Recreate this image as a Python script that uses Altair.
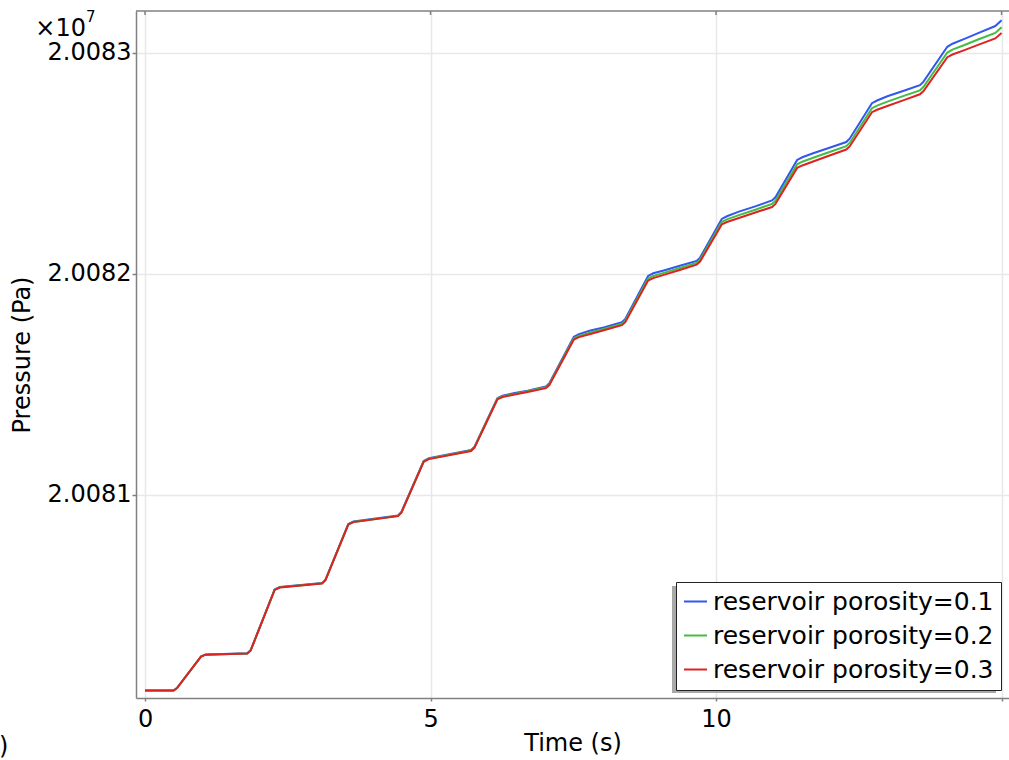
import altair as alt
import pandas as pd

# ---- data ----
times = [0.00, 0.50, 0.56, 0.98, 1.06,
         1.79, 1.85, 2.27, 2.36,
         3.10, 3.16, 3.56, 3.65,
         4.43, 4.49, 4.88, 4.97,
         5.71, 5.77, 6.17, 6.26,
         6.45, 6.70,
         7.02, 7.08, 7.51, 7.60,
         7.80, 8.05,
         8.35, 8.41, 8.81, 8.90,
         9.10, 9.35,
         9.66, 9.72, 10.10, 10.19,
         10.40, 10.70,
         10.98, 11.04, 11.42, 11.51,
         11.70, 12.00,
         12.28, 12.34, 12.73, 12.82,
         13.00, 13.30,
         13.57, 13.63, 14.05, 14.14,
         14.35, 14.60,
         14.89, 15.00]

p_por_01 = [20080115, 20080115, 20080126, 20080269, 20080278,
            20080283, 20080297, 20080572, 20080583,
            20080601, 20080616, 20080869, 20080880,
            20080907, 20080923, 20081154, 20081166,
            20081203, 20081218, 20081438, 20081449,
            20081460, 20081472,
            20081491, 20081505, 20081716, 20081728,
            20081744, 20081759,
            20081782, 20081796, 20081991, 20082003,
            20082017, 20082036,
            20082059, 20082074, 20082249, 20082261,
            20082282, 20082307,
            20082333, 20082347, 20082516, 20082528,
            20082546, 20082572,
            20082597, 20082612, 20082773, 20082785,
            20082804, 20082830,
            20082854, 20082869, 20083028, 20083042,
            20083064, 20083091,
            20083122, 20083148]

p_por_02 = [20080115, 20080115, 20080126, 20080268, 20080277,
            20080282, 20080296, 20080571, 20080582,
            20080600, 20080615, 20080867, 20080878,
            20080905, 20080921, 20081152, 20081164,
            20081201, 20081216, 20081435, 20081446,
            20081456, 20081469,
            20081487, 20081501, 20081709, 20081720,
            20081735, 20081752,
            20081774, 20081788, 20081979, 20081991,
            20082006, 20082026,
            20082050, 20082064, 20082235, 20082247,
            20082266, 20082292,
            20082317, 20082331, 20082496, 20082508,
            20082526, 20082553,
            20082578, 20082593, 20082750, 20082762,
            20082780, 20082807,
            20082831, 20082846, 20083002, 20083015,
            20083036, 20083062,
            20083091, 20083116]

p_por_03 = [20080115, 20080115, 20080126, 20080268, 20080277,
            20080282, 20080296, 20080570, 20080581,
            20080599, 20080614, 20080866, 20080877,
            20080904, 20080920, 20081150, 20081162,
            20081199, 20081214, 20081432, 20081443,
            20081453, 20081466,
            20081483, 20081497, 20081703, 20081714,
            20081728, 20081746,
            20081768, 20081782, 20081970, 20081981,
            20081997, 20082017,
            20082042, 20082056, 20082224, 20082235,
            20082253, 20082279,
            20082303, 20082317, 20082480, 20082491,
            20082509, 20082537,
            20082563, 20082577, 20082732, 20082743,
            20082760, 20082788,
            20082813, 20082827, 20082981, 20082993,
            20083013, 20083038,
            20083066, 20083090]

series_labels = ["reservoir porosity=0.1", "reservoir porosity=0.2", "reservoir porosity=0.3"]
series_colors = ["#3356ee", "#44bb44", "#dd2222"]
x_ticks = [0, 5, 10, 15]
y_ticks = [20081000, 20082000, 20083000]

rows = []
for lab, vals in zip(series_labels, [p_por_01, p_por_02, p_por_03]):
    for t, p in zip(times, vals):
        rows.append({"t": t, "p": p, "series": lab})
df = pd.DataFrame(rows)

W, H = 873, 687
FONT = "DejaVu Sans"
AX = "#808080"

xscale = alt.Scale(domain=[-0.158, 15.13], nice=False, zero=False)
yscale = alt.Scale(domain=[20080081, 20083190], nice=False, zero=False)

lines = alt.Chart(df).mark_line(strokeWidth=2).encode(
    x=alt.X("t:Q", scale=xscale,
            axis=alt.Axis(values=x_ticks, title="Time (s)", tickSize=3, labelPadding=6,
                          labelExpr="datum.value == 15 ? '' : format(datum.value, 'd')",
                          titleY=52, titleBaseline="alphabetic")),
    y=alt.Y("p:Q", scale=yscale,
            axis=alt.Axis(values=y_ticks, title="Pressure (Pa)", tickSize=4, labelPadding=1,
                          labelExpr="format(datum.value / 1e7, '.4f')",
                          titleX=-107, titleY=H / 2, titleBaseline="alphabetic",
                          titleAlign="center")),
    color=alt.Color("series:N", scale=alt.Scale(domain=series_labels, range=series_colors),
                    legend=alt.Legend(title=None, orient="none", legendX=540, legendY=571,
                                      symbolType="stroke", symbolSize=529, symbolStrokeWidth=2,
                                      labelFontSize=25, labelFont=FONT, labelColor="black",
                                      labelLimit=500, labelOffset=5, padding=7, rowPadding=8,
                                      strokeColor="#222222", fillColor="white")),
)

one = pd.DataFrame({"a": [0]})
top_border = alt.Chart(one).mark_rule(color=AX, strokeWidth=1.5).encode(
    x=alt.value(0), x2=alt.value(W), y=alt.value(0))

top_ticks = alt.Chart(pd.DataFrame({"t": x_ticks})).mark_rule(color=AX, strokeWidth=1.5).encode(
    x=alt.X("t:Q", scale=xscale), y=alt.value(0), y2=alt.value(4))

shadow = alt.Chart(one).mark_rect(color="#a8a8a8").encode(
    x=alt.value(536), x2=alt.value(860), y=alt.value(575), y2=alt.value(682))

exp_base = alt.Chart(one).mark_text(font=FONT, fontSize=24, align="right",
                                     baseline="alphabetic", color="black").encode(
    x=alt.value(-50), y=alt.value(25), text=alt.value("×10"))
exp_pow = alt.Chart(one).mark_text(font=FONT, fontSize=15, align="left",
                                    baseline="alphabetic", color="black").encode(
    x=alt.value(-50), y=alt.value(11), text=alt.value("7"))
panel = alt.Chart(one).mark_text(font=FONT, fontSize=24, align="left",
                                  baseline="alphabetic", color="black").encode(
    x=alt.value(-137), y=alt.value(743), text=alt.value(")"))

chart = alt.layer(shadow, lines, top_border, top_ticks, exp_base, exp_pow, panel).properties(
    width=W, height=H,
    padding={"left": 136, "top": 11, "right": 0, "bottom": 62},
    autosize=alt.AutoSizeParams(type="none"),
).configure_view(stroke=None).configure_axis(
    labelFont=FONT, titleFont=FONT, labelFontSize=24, titleFontSize=24,
    labelColor="black", titleColor="black", titleFontWeight="normal",
    gridColor="#e8e8e8", gridWidth=1.5, domainColor=AX, domainWidth=1.5,
    tickColor=AX, tickWidth=1.5,
)

chart.save("out.html", embed_options={"renderer": "svg", "actions": False})
